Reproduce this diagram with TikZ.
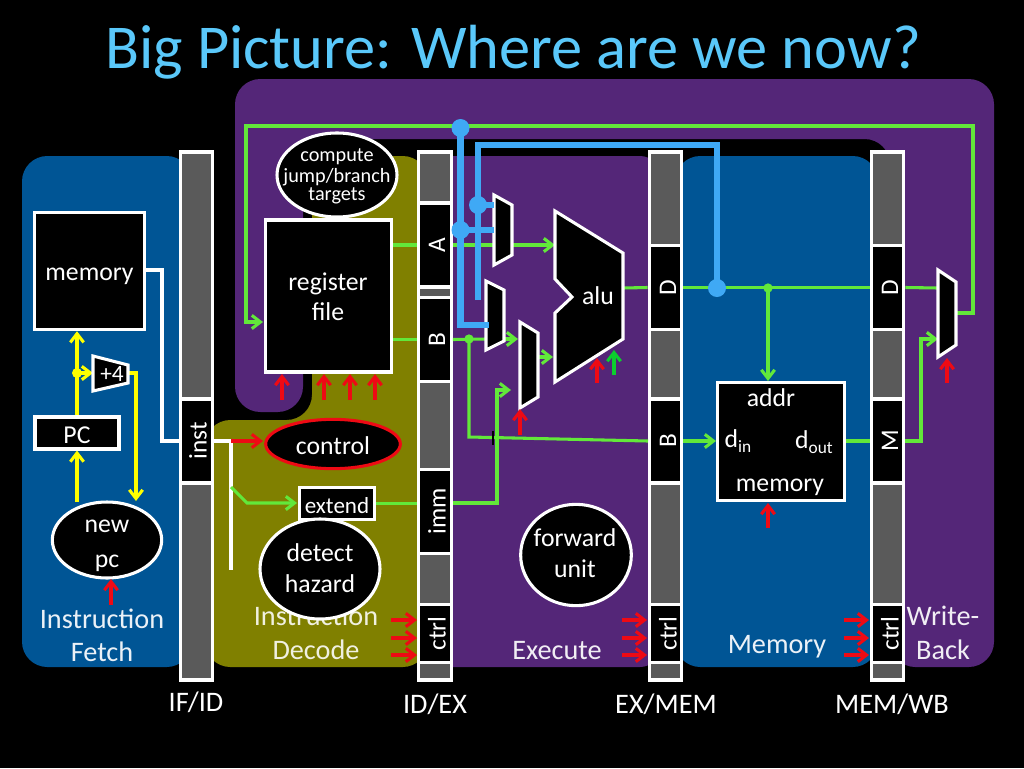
\documentclass[tikz,border=0pt]{standalone}
\usepackage{fontspec}
\setmainfont{Carlito}
\usetikzlibrary{arrows.meta,shapes.geometric}
\definecolor{bgpurple}{HTML}{542678}
\definecolor{bgblue}{HTML}{005595}
\definecolor{bgolive}{HTML}{808000}
\definecolor{bargray}{HTML}{5A5A5A}
\definecolor{wgreen}{HTML}{62E83A}
\definecolor{wyellow}{HTML}{FFFF00}
\definecolor{wred}{HTML}{EE0A14}
\definecolor{wblue}{HTML}{3FA9F5}
\definecolor{agreen}{HTML}{0CCF2E}
\definecolor{ttl}{HTML}{5AC8FA}
\newcommand{\fs}[1]{\fontsize{#1}{#1}\selectfont}
\tikzset{
 px/.style={x=0.75pt,y=-0.75pt},
 region/.style={rounded corners=19pt},
 barbox/.style={draw=white,line width=2.4pt,fill=bargray},
 secbox/.style={draw=white,line width=2.4pt,fill=black},
 unit/.style={draw=white,line width=2.3pt,fill=black,text=white},
 muxshape/.style={draw=white,line width=2.3pt,fill=black,line join=miter},
 lbl/.style={text=white,font=\fs{19.3},inner sep=0pt,align=center},
 small/.style={text=white,font=\fs{15.2},inner sep=0pt,align=center},
 bartext/.style={text=white,font=\fs{19},inner sep=0pt,rotate=90},
 phase/.style={font=\fs{21.2},inner sep=0pt},
 gw/.style={draw=wgreen,line width=2.3pt},
 ga/.style={gw,-{Straight Barb[length=6.5pt,width=10pt,line width=2.3pt]}},
 yw/.style={draw=wyellow,line width=2.3pt},
 ya/.style={yw,-{Straight Barb[length=6.5pt,width=10pt,line width=2.3pt]}},
 ra/.style={draw=wred,line width=2.3pt,-{Straight Barb[length=6.5pt,width=10pt,line width=2.3pt]}},
 ww/.style={draw=white,line width=2.3pt},
 bw/.style={draw=wblue,line width=5pt},
 bdot/.style={circle,fill=wblue,inner sep=0pt,minimum size=13.5pt},
 gdot/.style={circle,fill=wgreen,inner sep=0pt,minimum size=7pt},
 ydot/.style={circle,fill=wyellow,inner sep=0pt,minimum size=7.5pt},
 pt/.style={inner sep=0pt,minimum size=0pt},
}
\begin{document}
\begin{tikzpicture}[px]
\useasboundingbox (0,0) rectangle (1024,768);
\fill[black] (0,0) rectangle (1024,768);
% title
\node[pt,text=ttl,font=\fs{46.8}] (title) at (513,52) {Big Picture: Where are we now?};
% phase regions
\fill[bgpurple,region] (235,79)--(994,79)--(994,667)--(890,667)--(890,139)--(303,139)--(303,412)--(235,412)--cycle;
\fill[bgblue,region] (22,156) rectangle (192,667);
\fill[bgolive,region] (205,420)--(312,420)--(312,156)--(428,156)--(428,667)--(205,667)--cycle;
\fill[bgpurple,rounded corners=15pt] (425,156) rectangle (660,667);
\fill[bgblue,region] (675,156) rectangle (878,667);
% Instruction label is overlapped by the hazard unit
\node[phase,text=white!92!bgblue] (lfetch1) at (102,619) {Instruction};
\node[phase,text=white!92!bgblue] (lfetch2) at (102,652) {Fetch};
\node[phase,text=white!88!bgolive] (ldec1) at (316,616) {Instruction};
\node[phase,text=white!88!bgolive] (ldec2) at (316,650) {Decode};
\node[phase,text=white!92!bgpurple] (lexe) at (557,651) {Execute};
\node[phase,text=white!92!bgblue] (lmem) at (777,647) {Memory};
\node[phase,text=white!92!bgpurple] (lwb1) at (943,616) {Write-};
\node[phase,text=white!92!bgpurple] (lwb2) at (943,650) {Back};
% pipeline bars
\node[barbox,pt,minimum width=24.5pt,minimum height=396pt] (ifid) at (196.5,416) {};
\node[barbox,pt,minimum width=24.5pt,minimum height=396pt] (idex) at (435,416) {};
\node[barbox,pt,minimum width=24.5pt,minimum height=396pt] (exmem) at (665.5,416) {};
\node[barbox,pt,minimum width=24.5pt,minimum height=396pt] (memwb) at (887.5,416) {};
\node[secbox,pt,minimum width=24.5pt,minimum height=63pt] (inst) at (196.5,441) {};
\node[bartext] at (198,441) {inst};
\node[secbox,pt,minimum width=24.5pt,minimum height=63pt] (rA) at (435,245) {};
\node[bartext] at (437,245) {A};
\node[secbox,pt,minimum width=24.5pt,minimum height=63pt] (rB) at (435,339.5) {};
\node[bartext] at (437,339.5) {B};
\node[secbox,pt,minimum width=24.5pt,minimum height=63pt] (rimm) at (435,511.5) {};
\node[bartext] at (437,511.5) {imm};
\node[secbox,pt,minimum width=24.5pt,minimum height=44pt] (rctrl1) at (435,633.5) {};
\node[bartext] at (437,633.5) {ctrl};
\node[secbox,pt,minimum width=24.5pt,minimum height=63pt] (rD1) at (665.5,287.5) {};
\node[bartext] at (668,287.5) {D};
\node[secbox,pt,minimum width=24.5pt,minimum height=63pt] (rB2) at (665.5,441) {};
\node[bartext] at (668,441) {B};
\node[secbox,pt,minimum width=24.5pt,minimum height=44pt] (rctrl2) at (665.5,633.5) {};
\node[bartext] at (668,633.5) {ctrl};
\node[secbox,pt,minimum width=24.5pt,minimum height=63pt] (rD2) at (887.5,287.5) {};
\node[bartext] at (890,287.5) {D};
\node[secbox,pt,minimum width=24.5pt,minimum height=63pt] (rM) at (887.5,441) {};
\node[bartext] at (890,441) {M};
\node[secbox,pt,minimum width=24.5pt,minimum height=44pt] (rctrl3) at (887.5,633.5) {};
\node[bartext] at (890,633.5) {ctrl};
\node[phase,text=white] (nifid) at (196,702) {IF/ID};
\node[phase,text=white] (nidex) at (435,704) {ID/EX};
\node[phase,text=white] (nexmem) at (666,704) {EX/MEM};
\node[phase,text=white] (nmemwb) at (892,704) {MEM/WB};
% units
\node[unit,pt,rectangle,minimum width=82pt,minimum height=88pt] (imem) at (89.5,271) {};
\node[lbl] at (89.5,276) {memory};
\node[unit,pt,rectangle,minimum width=63pt,minimum height=24pt] (pc) at (77,433) {};
\node[lbl] at (77,435) {PC};
\node[unit,pt,ellipse,minimum width=82pt,minimum height=57pt] (newpc) at (107,540) {};
\node[lbl] at (107,526) {new};
\node[lbl] at (107,563) {pc};
\node[unit,pt,rectangle,minimum width=95pt,minimum height=114pt] (regs) at (328.5,296) {};
\node[lbl,align=center] at (328,284) {register};
\node[lbl,align=center] at (328,312) {file};
\node[unit,pt,ellipse,minimum width=90pt,minimum height=63pt] (jump) at (337,175) {};
\node[small] at (337,157) {compute};
\node[small] at (337,177) {jump/branch};
\node[small] at (337,196) {targets};
\node[unit,pt,ellipse,draw=wred,minimum width=101pt,minimum height=37pt] (control) at (333,444) {};
\node[lbl] at (333,446) {control};
\node[unit,pt,rectangle,minimum width=56pt,minimum height=24pt] (extend) at (337,503.5) {};
\node[pt,text=white,font=\fs{17.3}] at (337,506) {extend};
\node[unit,pt,ellipse,minimum width=90pt,minimum height=75pt] (hazard) at (320,569) {};
\node[lbl] at (320,553) {detect};
\node[lbl] at (320,584) {hazard};
\node[unit,pt,ellipse,minimum width=83pt,minimum height=76pt] (fwd) at (576,555) {};
\node[lbl] at (575,538) {forward};
\node[lbl] at (575,569) {unit};
\node[unit,pt,rectangle,minimum width=95pt,minimum height=88pt] (dmem) at (781,441.5) {};
\node[lbl] at (771,398) {addr};
\node[lbl] at (738,441) {d\raisebox{-0.35ex}{\fs{13}in}};
\node[lbl] at (814,442) {d\raisebox{-0.35ex}{\fs{13}out}};
\node[lbl] at (780,487) {memory};
% named connection points
\coordinate (plus4in) at (93,373);
\coordinate (plus4out) at (128,373);
\coordinate (ydot) at (77,373);
\coordinate (muxAin) at (494,245);
\coordinate (muxAout) at (512,245);
\coordinate (muxBin) at (486,339);
\coordinate (muxBout) at (504,339);
\coordinate (muxCin) at (518,339);
\coordinate (muxCimm) at (511,390);
\coordinate (muxCout) at (538,357);
\coordinate (aluA) at (555,245);
\coordinate (aluB) at (553,357);
\coordinate (aluOut) at (623,288);
\coordinate (muxWin) at (938,288);
\coordinate (muxWm) at (938,339);
\coordinate (muxWout) at (956,313);
\coordinate (hub1) at (717,288);
\coordinate (hub2) at (768,288);
\coordinate (gdotB) at (469,339);
% green wires (underneath muxes and forwarding)
\draw[gw] (regs.east |- rA.west) -- (rA.west);
\draw[gw] (regs.east |- rB.west) -- (rB.west);
\draw[gw] (extend.east) -- (extend.east -| rimm.west);
\draw[ga] (muxWout) -- (973,313) -- (973,126) -- (246,126) -- (246,322) -- (263,322);
\draw[gw] (rA.east) -- (muxAin);
\draw[ga] (muxAout) -- (aluA);
\draw[gw] (rB.east) -- (muxBin);
\draw[ga] (muxBout) -- (muxCin);
\draw[gw] (gdotB) -- (469,437) -- (648,441);
\draw[black,line width=1.5pt] (493,431) -- (493,445);
\draw[ga] (rimm.east |- 0,503) -- (497,503) -- (497,390) -- (muxCimm);
\draw[ga] (muxCout) -- (aluB);
\draw[gw] (aluOut) -- (rD1.west);
\draw[gw] (rD1.east) -- (rD2.west);
\draw[gw] (rD2.east) -- (muxWin);
\draw[ga] (hub2) -- (768,381);
\draw[ga] (rB2.east) -- (716,441);
\draw[gw] (dmem.east |- 0,441) -- (rM.west);
\draw[ga] (rM.east) -- (921,441) -- (921,339) -- (muxWm);
\node[gdot] (gd1) at (gdotB) {};
\node[gdot] (gd2) at (hub2) {};
% white and yellow wires
\draw[ww] (imem.east |- 0,270) -- (162,270) -- (162,441) -- (inst.west);
\draw[ww] (inst.east) -- (231,441) -- (231,570);
\draw[ra] (231,441) -- (263,441);
\draw[ga] (231,487) -- (247,503) -- (297,503);
\draw[ya] (77,502) -- (pc.south);
\draw[ya] (pc.north) -- (imem.south -| pc.north);
\draw[ya] (ydot) -- (plus4in);
\draw[ya] (plus4out) -- (136,373) -- (136,501);
\node[ydot] (yd) at (ydot) {};
% muxes
\draw[muxshape] (93,356)--(128,365)--(128,383)--(93,391)--cycle;
\node[pt,text=white,font=\fs{17.5}] (plus4) at (112,374) {+4};
\draw[muxshape] (494,195)--(512,205)--(512,255)--(494,265)--cycle;
\draw[muxshape] (486,281)--(504,290)--(504,341)--(486,350)--cycle;
\draw[muxshape] (520,322)--(538,333)--(538,397)--(520,408)--cycle;
\draw[muxshape] (938,270)--(956,282)--(956,345)--(938,357)--cycle;
\draw[muxshape] (555,211)--(623,253)--(623,339)--(555,382)--(555,313)--(572,297)--(555,279)--cycle;
\node[lbl] (alu) at (598,296) {alu};
% forwarding paths
\draw[bw] (460.5,128) -- (460.5,325) -- (489,325);
\draw[bw] (460.5,230) -- (494,230);
\draw[bw] (478,300) -- (478,145) -- (717,145) -- (hub1);
\draw[bw] (478,205) -- (494,205);
\node[bdot] (bd1) at (460.5,128) {};
\node[bdot] (bd2) at (460.5,230) {};
\node[bdot] (bd3) at (478,205) {};
\node[bdot] (bd4) at (hub1) {};
% control arrows
\foreach \x/\y in {282/400,324/400,350/400,375/400}{\draw[ra] (\x,\y) -- (\x,374);}
\draw[ra] (111,605) -- (111,579);
\draw[ra] (597,383) -- (597,358);
\draw[draw=agreen,line width=2.3pt,-{Straight Barb[length=6.5pt,width=10pt,line width=2.3pt]}] (614,375) -- (614,350);
\draw[ra] (520,435) -- (520,409);
\draw[ra] (768,528) -- (768,503);
\draw[ra] (947,383) -- (947,358);
\foreach \y in {620,638,655}{
 \draw[ra] (391,\y) -- (417,\y);
 \draw[ra] (622,\y) -- (647,\y);
 \draw[ra] (844,\y) -- (869,\y);
}
\end{tikzpicture}
\end{document}
